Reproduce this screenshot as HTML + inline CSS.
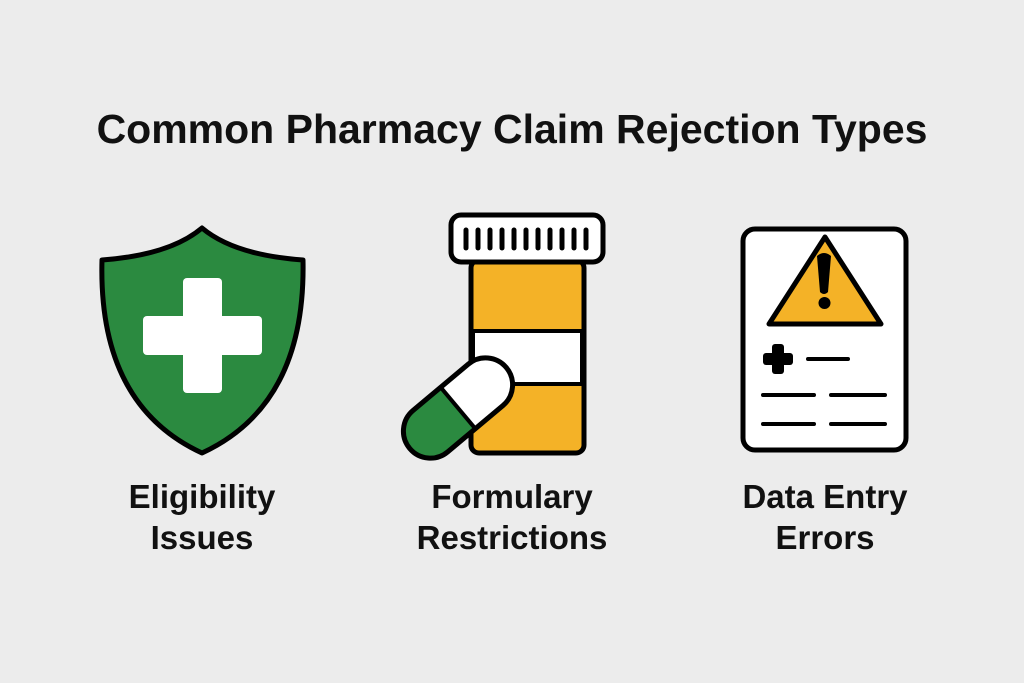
<!DOCTYPE html>
<html><head><style>
body{margin:0;width:1024px;height:683px;background:#ececec;overflow:hidden;font-family:"Liberation Sans",sans-serif}
.t{position:absolute;left:0;width:1024px;text-align:center;font-weight:bold;color:#111}
</style></head><body>
<div class="t" style="top:106px;font-size:41px">Common Pharmacy Claim Rejection Types</div>
<svg width="1024" height="683" style="position:absolute;left:0;top:0">
<path d="M202,228 Q170,255 102,260 Q98,405 202,453 Q306,405 303,260 Q234,255 202,228Z" fill="#2b8a40" stroke="#000" stroke-width="5" stroke-linejoin="round"/>
<rect x="183" y="278" width="39" height="115" rx="4" fill="#fff"/>
<rect x="143" y="316" width="119" height="39" rx="4" fill="#fff"/>
<rect x="471" y="260" width="113" height="193" rx="8" fill="#f4b227" stroke="#000" stroke-width="5"/>
<rect x="473" y="331" width="109" height="53" fill="#fff" stroke="#000" stroke-width="4"/>
<rect x="451" y="215" width="152" height="47" rx="10" fill="#fff" stroke="#000" stroke-width="5"/>
<g stroke="#000" stroke-width="5" stroke-linecap="round">
<line x1="466" y1="230" x2="466" y2="248"/><line x1="478" y1="230" x2="478" y2="248"/><line x1="490" y1="230" x2="490" y2="248"/><line x1="502" y1="230" x2="502" y2="248"/><line x1="514" y1="230" x2="514" y2="248"/><line x1="526" y1="230" x2="526" y2="248"/><line x1="538" y1="230" x2="538" y2="248"/><line x1="550" y1="230" x2="550" y2="248"/><line x1="562" y1="230" x2="562" y2="248"/><line x1="574" y1="230" x2="574" y2="248"/><line x1="586" y1="230" x2="586" y2="248"/>
</g>
<g transform="translate(458,408) rotate(-40)">
<path d="M0,-27 H36 A27,27 0 0 1 36,27 H0Z" fill="#fff"/>
<path d="M0,-27 H-36 A27,27 0 0 0 -36,27 H0Z" fill="#2b8a40"/>
<rect x="-63" y="-27" width="126" height="54" rx="27" fill="none" stroke="#000" stroke-width="5"/>
<line x1="0" y1="-27" x2="0" y2="27" stroke="#000" stroke-width="4"/>
</g>
<rect x="743" y="229" width="163" height="221" rx="12" fill="#fff" stroke="#000" stroke-width="5"/>
<path d="M825,237 L881,324 L769,324Z" fill="#f4b227" stroke="#000" stroke-width="5" stroke-linejoin="round"/>
<path d="M817,256 Q824,250 831,256 L828,292 Q824,296 820,292Z" fill="#000"/>
<circle cx="824.5" cy="303" r="6" fill="#000"/>
<rect x="772" y="344" width="12" height="30" rx="3" fill="#000"/>
<rect x="763" y="353" width="30" height="12" rx="3" fill="#000"/>
<g stroke="#000" stroke-width="4" stroke-linecap="round">
<line x1="808" y1="359" x2="848" y2="359"/>
<line x1="763" y1="395" x2="814" y2="395"/><line x1="831" y1="395" x2="885" y2="395"/>
<line x1="763" y1="424" x2="814" y2="424"/><line x1="831" y1="424" x2="885" y2="424"/>
</g>
</svg>
<div class="t" style="top:476px;left:92px;width:220px;font-size:33px;line-height:41px">Eligibility<br>Issues</div>
<div class="t" style="top:476px;left:392px;width:240px;font-size:33px;line-height:41px">Formulary<br>Restrictions</div>
<div class="t" style="top:476px;left:712px;width:226px;font-size:33px;line-height:41px">Data Entry<br>Errors</div>
</body></html>
